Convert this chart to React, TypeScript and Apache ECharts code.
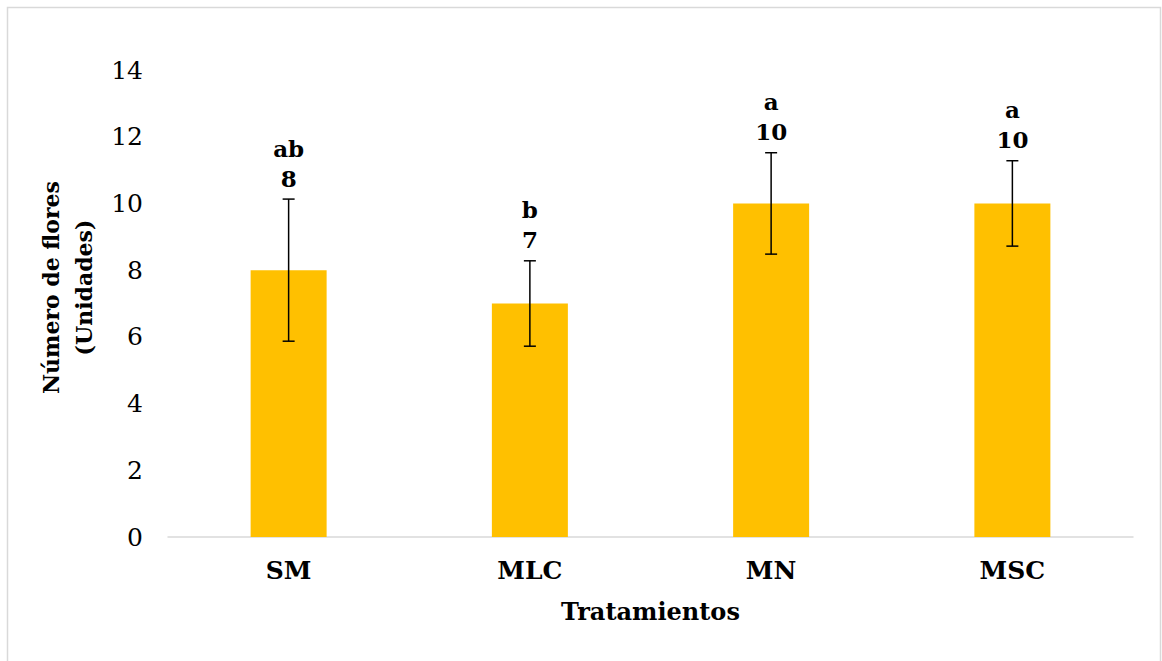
import React, { useEffect, useRef } from "react";
import * as echarts from "echarts";

const categories = ["SM", "MLC", "MN", "MSC"];
const means = [8, 7, 10, 10];
const errors = [2.13, 1.28, 1.52, 1.28];
const letters = ["ab", "b", "a", "a"];
const yTicks = { min: 0, max: 14, interval: 2 };

const FONT = "DejaVu Serif";

export default function App() {
  const ref = useRef<HTMLDivElement>(null);
  useEffect(() => {
    if (!ref.current) return;
    const chart = echarts.init(ref.current, null, { renderer: "svg" });
    const errData = categories.map((c, i) => [i, means[i], errors[i], letters[i]]);
    chart.setOption({
      animation: false,
      backgroundColor: "#ffffff",
      textStyle: { fontFamily: FONT },
      graphic: [
        {
          type: "rect",
          shape: { x: 7.5, y: 7.5, width: 1153, height: 660 },
          style: { fill: "none", stroke: "#d9d9d9", lineWidth: 1.5 },
          silent: true,
        },
      ],
      grid: { left: 168, right: 29, top: 70, bottom: 124 },
      xAxis: {
        type: "category",
        data: categories,
        name: "Tratamientos",
        nameLocation: "middle",
        nameGap: 62,
        nameTextStyle: { fontFamily: FONT, fontWeight: "bold", fontSize: 24, color: "#000" },
        axisLine: { lineStyle: { color: "#d9d9d9", width: 1.5 } },
        axisTick: { show: false },
        axisLabel: { fontFamily: FONT, fontWeight: "bold", fontSize: 25, color: "#000", margin: 21 },
      },
      yAxis: {
        type: "value",
        min: yTicks.min,
        max: yTicks.max,
        interval: yTicks.interval,
        name: "Número de flores\n(Unidades)",
        nameLocation: "middle",
        nameGap: 55,
        nameTextStyle: {
          fontFamily: FONT,
          fontWeight: "bold",
          fontSize: 22,
          color: "#000",
          lineHeight: 33,
          padding: [0, 0, 0, 32],
        },
        axisLine: { show: false },
        axisTick: { show: false },
        splitLine: { show: false },
        axisLabel: { fontFamily: FONT, fontSize: 25, color: "#000", margin: 25 },
      },
      series: [
        {
          type: "bar",
          data: means,
          barWidth: 76,
          itemStyle: { color: "#FFC000" },
        },
        {
          type: "custom",
          data: errData,
          z: 10,
          renderItem: (params: any, api: any) => {
            const x = api.value(0);
            const m = api.value(1);
            const e = api.value(2);
            const idx = params.dataIndex;
            const top = api.coord([x, m + e]);
            const bot = api.coord([x, m - e]);
            const cw = 6;
            const st = { stroke: "#000", lineWidth: 1.5 };
            return {
              type: "group",
              children: [
                { type: "line", shape: { x1: top[0], y1: top[1], x2: bot[0], y2: bot[1] }, style: st },
                { type: "line", shape: { x1: top[0] - cw, y1: top[1], x2: top[0] + cw, y2: top[1] }, style: st },
                { type: "line", shape: { x1: bot[0] - cw, y1: bot[1], x2: bot[0] + cw, y2: bot[1] }, style: st },
                {
                  type: "text",
                  x: top[0],
                  y: top[1] - 6,
                  style: {
                    text: letters[idx] + "\n" + String(means[idx]),
                    fontFamily: FONT,
                    fontWeight: "bold",
                    fontSize: 23,
                    lineHeight: 30,
                    fill: "#000",
                    align: "center",
                    verticalAlign: "bottom",
                  },
                },
              ],
            };
          },
        },
      ],
    });
    return () => chart.dispose();
  }, []);
  return (
    <div
      ref={ref}
      style={{ position: "absolute", left: 0, top: 0, width: 1162, height: 661 }}
    />
  );
}
